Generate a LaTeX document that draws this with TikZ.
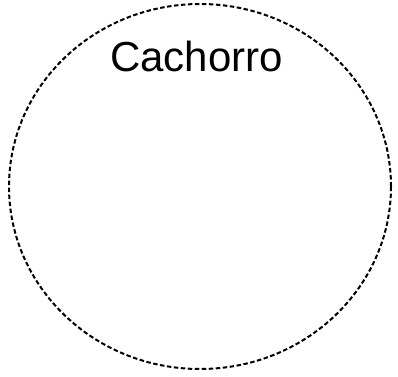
\documentclass[tikz,border=0pt]{standalone}
\usepackage{fontspec}
\setmainfont{Liberation Sans}
\usetikzlibrary{shapes.geometric, positioning}

\begin{document}
\begin{tikzpicture}[x=1pt, y=1pt,
        setbox/.style={draw=black, ellipse, line width=2pt, dash pattern=on 4.5pt off 2.5pt, minimum width=382pt, minimum height=365pt, inner sep=0pt},
        setlabel/.style={font=\fontsize{42}{46}\selectfont, inner sep=0pt, anchor=base}
    ]
        \useasboundingbox (0,0) rectangle (398,376);
        \node[setbox] (dog) at (200,189.5) {};
        \node[setlabel] (doglabel) at (196.5,305) {Cachorro};
    \end{tikzpicture}
\end{document}
